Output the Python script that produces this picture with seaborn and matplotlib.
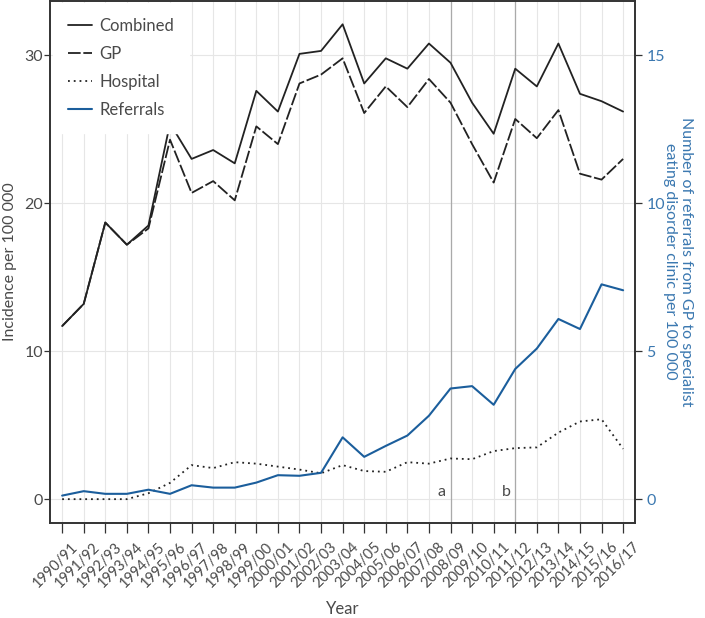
import numpy as np
import pandas as pd
import matplotlib
matplotlib.use("Agg")
import matplotlib.pyplot as plt
import matplotlib.transforms as mtransforms
import seaborn as sns

years = ['1990/91', '1991/92', '1992/93', '1993/94', '1994/95', '1995/96', '1996/97',
         '1997/98', '1998/99', '1999/00', '2000/01', '2001/02', '2002/03', '2003/04',
         '2004/05', '2005/06', '2006/07', '2007/08', '2008/09', '2009/10', '2010/11',
         '2011/12', '2012/13', '2013/14', '2014/15', '2015/16', '2016/17']
combined = [11.7, 13.2, 18.7, 17.2, 18.5, 25.4, 23.0, 23.6, 22.7, 27.6, 26.2, 30.1, 30.3, 32.1,
            28.1, 29.8, 29.1, 30.8, 29.5, 26.8, 24.7, 29.1, 27.9, 30.8, 27.4, 26.9, 26.2]
gp = [11.7, 13.2, 18.7, 17.2, 18.3, 24.3, 20.7, 21.5, 20.2, 25.2, 24.0, 28.1, 28.7, 29.8,
      26.1, 27.9, 26.5, 28.4, 26.8, 24.0, 21.4, 25.7, 24.4, 26.3, 22.0, 21.6, 23.0]
hospital = [0.0, 0.0, 0.0, 0.0, 0.4, 1.1, 2.3, 2.1, 2.5, 2.4, 2.2, 2.0, 1.75, 2.3,
            1.9, 1.85, 2.5, 2.4, 2.75, 2.7, 3.25, 3.45, 3.5, 4.5, 5.25, 5.4, 3.4]
referrals = [0.12, 0.27, 0.18, 0.18, 0.32, 0.18, 0.47, 0.39, 0.39, 0.56, 0.81, 0.79, 0.89, 2.09,
             1.43, 1.80, 2.15, 2.82, 3.74, 3.82, 3.19, 4.40, 5.09, 6.09, 5.75, 7.26, 7.06]
# policy change markers
markers = {'a': '2008/09', 'b': '2011/12'}

sns.set_style('white')
plt.rcParams['font.family'] = ['Lato', 'DejaVu Sans']

blue_line = '#1b5e9c'
blue_text = '#3b78b0'
txt = '#4a4a4a'

df = pd.DataFrame({'Year': years, 'Combined': combined, 'GP': gp, 'Hospital': hospital,
                   'Referrals': referrals})
x = np.arange(len(years))

fig = plt.figure(figsize=(7.05, 6.18), dpi=100)
ax = fig.add_axes([0.071, 0.154, 0.83, 0.845])

ax.grid(True, axis='both', color='#e6e6e6', linewidth=0.8)
ax.set_axisbelow(True)

sns.lineplot(x=x, y=df['Combined'], ax=ax, color='#222222', linewidth=1.3, label='Combined')
sns.lineplot(x=x, y=df['GP'], ax=ax, color='#222222', linewidth=1.3, label='GP')
ax.lines[-1].set_dashes((7, 1.5))
sns.lineplot(x=x, y=df['Hospital'], ax=ax, color='#222222', linewidth=1.3, label='Hospital')
ax.lines[-1].set_dashes((1, 2.2))

for lab, yr in markers.items():
    i = years.index(yr)
    ax.axvline(i, color='#aaaaaa', linewidth=0.9, zorder=1)
    ax.text(i - 0.4, 0.5, lab, ha='center', va='center', fontsize=11.5, color=txt)

ax.set_xlim(-0.56, 26.56)
ax.set_ylim(-1.6, 33.7)
ax.set_yticks([0, 10, 20, 30])
ax.tick_params(axis='y', labelsize=11.5, labelcolor=txt, length=4, width=0.9, color='#333333',
               left=True, pad=1)
ax.tick_params(axis='x', length=7, width=0.9, color='#333333', bottom=True, pad=3)
ax.set_xticks(x)
ax.set_xticklabels(years, rotation=45, ha='right', rotation_mode='anchor', fontsize=10.5,
                   color=txt)
# nudge the slanted year labels to sit like the original
shift = mtransforms.ScaledTranslation(9 / 100, -3 / 100, fig.dpi_scale_trans)
for t in ax.get_xticklabels():
    t.set_transform(t.get_transform() + shift)
ax.set_xlabel('Year', fontsize=12, color=txt, va='center')
ax.xaxis.set_label_coords(0.5, -0.165)
ax.set_ylabel('Incidence per 100 000', fontsize=11.5, color=txt, labelpad=5)

ax2 = ax.twinx()
sns.lineplot(x=x, y=df['Referrals'], ax=ax2, color=blue_line, linewidth=1.5, label='Referrals')
ax2.set_ylim(-0.8, 16.85)
ax2.set_yticks([0, 5, 10, 15])
ax2.tick_params(axis='y', labelsize=11.5, labelcolor=blue_text, length=5, width=0.9,
                color='#333333', right=True, pad=3)
ax2.set_ylabel('Number of referrals from GP to specialist\neating disorder clinic per 100 000',
               fontsize=11.5, color=blue_text, rotation=270, labelpad=20, linespacing=1.15)

for a in (ax, ax2):
    for s in a.spines.values():
        s.set_color('#333333')
        s.set_linewidth(1.2)

h1, l1 = ax.get_legend_handles_labels()
h2, l2 = ax2.get_legend_handles_labels()
if ax.get_legend() is not None:
    ax.get_legend().remove()
leg = ax2.legend(h1 + h2, l1 + l2, loc='upper left', bbox_to_anchor=(0.0, 1.0), frameon=True,
                 fontsize=12, handlelength=1.45, handletextpad=0.45, labelspacing=0.72,
                 borderpad=0.9, borderaxespad=0.15)
leg.get_frame().set_facecolor('white')
leg.get_frame().set_edgecolor('white')
leg.get_frame().set_alpha(1)
for t in leg.get_texts():
    t.set_color(txt)

fig.savefig('out.png', dpi=100)
